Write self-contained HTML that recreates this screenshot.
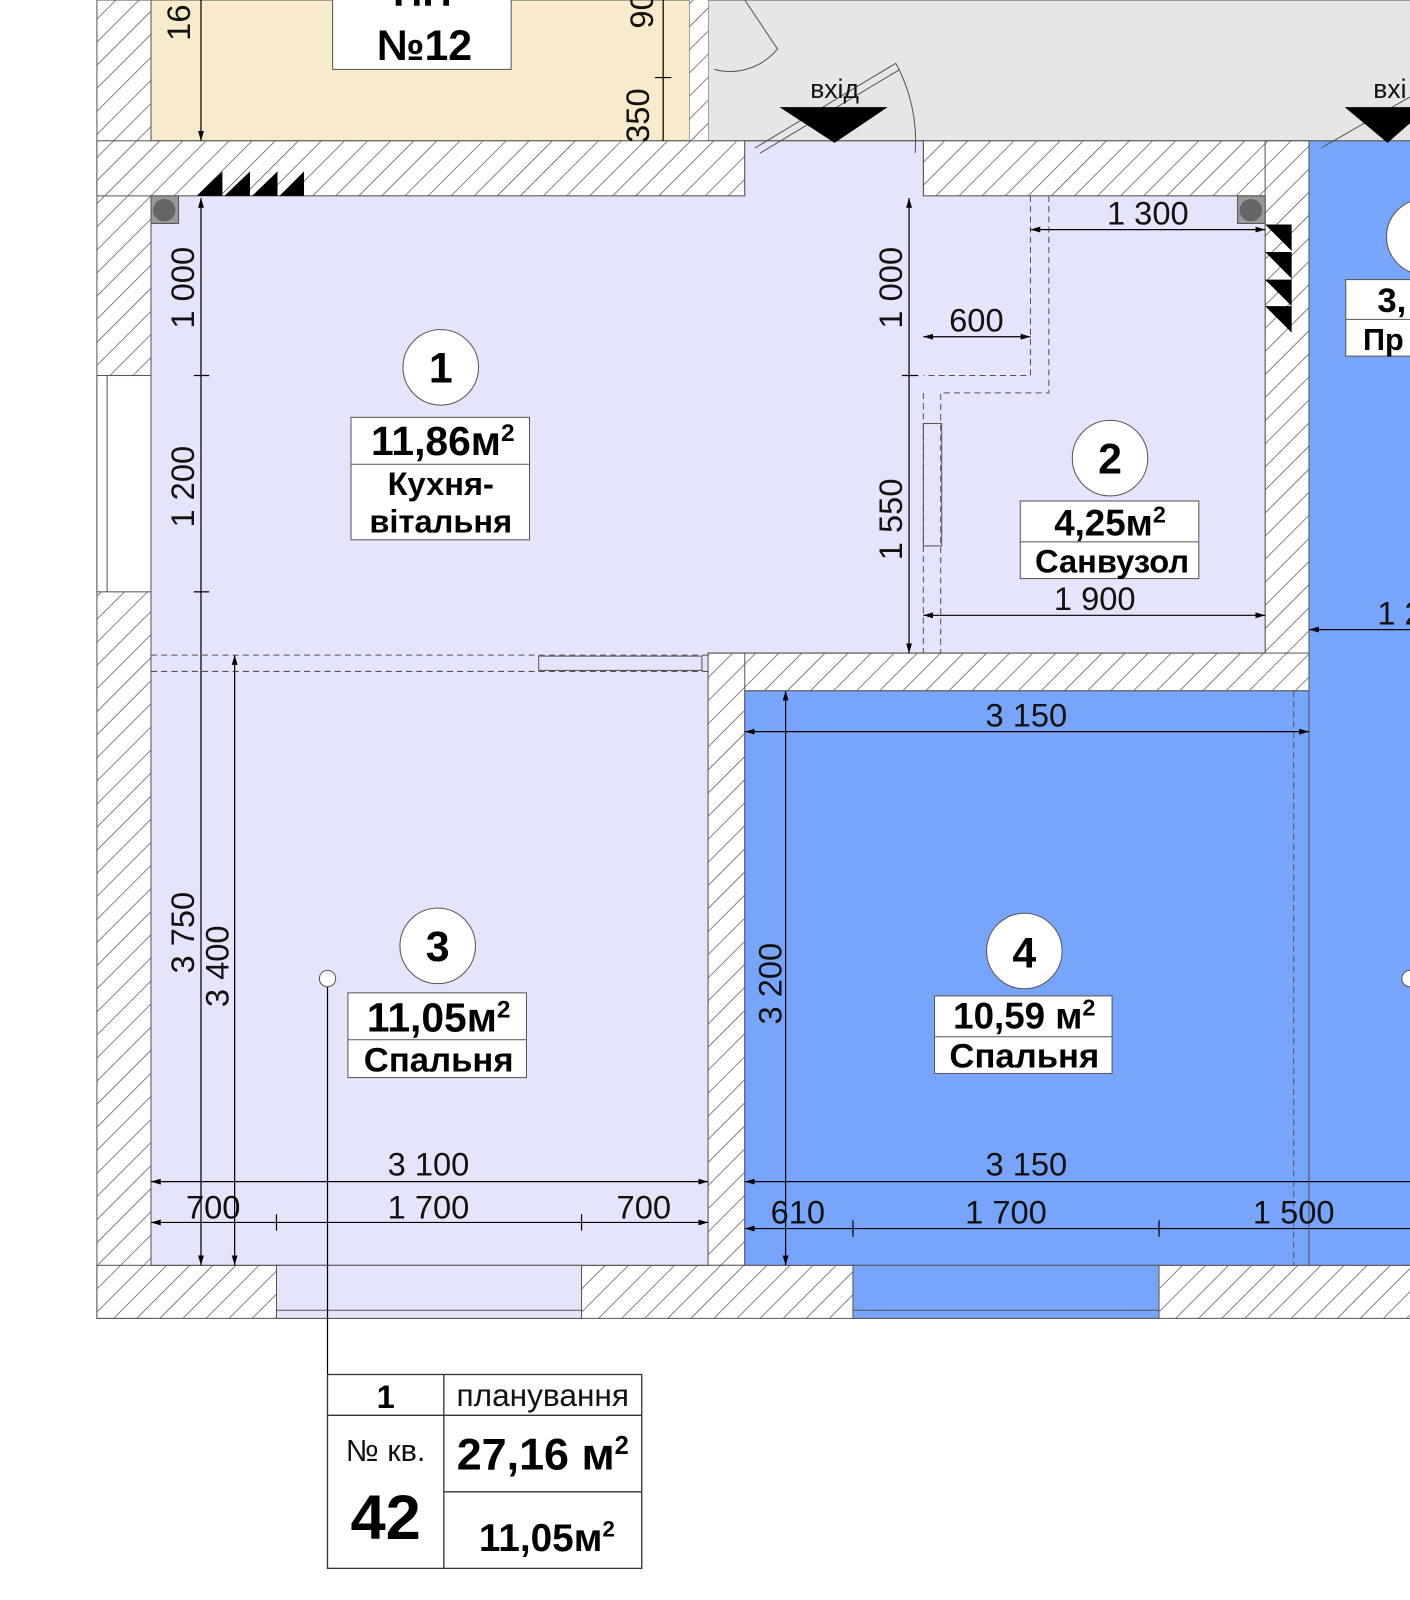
<!DOCTYPE html>
<html><head><meta charset="utf-8"><style>
html,body{margin:0;padding:0;background:#fff;}
svg{display:block}
text{font-family:"Liberation Sans",sans-serif;}
.d{font-size:32px;fill:#111}
.b{font-weight:bold;font-size:34px;fill:#000}
</style></head><body>
<svg width="1410" height="1600" viewBox="0 0 1382 1568" preserveAspectRatio="none" xmlns="http://www.w3.org/2000/svg">
<defs>
<pattern id="h" patternUnits="userSpaceOnUse" width="16" height="16" patternTransform="rotate(45)">
<rect width="16" height="16" fill="#fff"/><line x1="0" y1="0" x2="0" y2="16" stroke="#444" stroke-width="1.3"/>
</pattern>
<marker id="a" viewBox="0 0 10 10" refX="10" refY="5" markerWidth="8" markerHeight="8" orient="auto-start-reverse"><path d="M0,2L10,5L0,8z" fill="#000"/></marker>
</defs>
<rect width="1382" height="1568" fill="#fff"/>
<rect x="148" y="0" width="528" height="138" fill="#f7ebcc" stroke="#555"/>
<rect x="694" y="0" width="700" height="138" fill="#e6e6e6" stroke="#555"/>
<rect x="676" y="0" width="18" height="192" fill="url(#h)"/>
<rect x="95" y="0" width="53" height="1292" fill="url(#h)" stroke="#555"/>
<rect x="95" y="138" width="635" height="54" fill="url(#h)" stroke="#555"/>
<rect x="905" y="138" width="378" height="54" fill="url(#h)" stroke="#555"/>
<rect x="1240" y="138" width="43" height="540" fill="url(#h)" stroke="#555"/>
<rect x="694" y="640" width="589" height="37" fill="url(#h)" stroke="#555"/>
<rect x="694" y="640" width="36" height="600" fill="url(#h)" stroke="#555"/>
<rect x="95" y="1240" width="1300" height="52" fill="url(#h)" stroke="#555"/>
<path d="M148,192H730V138H905V192H1240V640H694V1240H148Z" fill="#e4e4fa" stroke="#555"/>
<rect x="730" y="677" width="553" height="563" fill="#76a5fb" stroke="#555"/>
<rect x="1283" y="138" width="110" height="1102" fill="#76a5fb" stroke="#555"/>
<rect x="95" y="368" width="53" height="212" fill="#fff" stroke="#555"/>
<line x1="105" y1="368" x2="105" y2="580" stroke="#555"/>
<rect x="271" y="1240" width="299" height="52" fill="#e4e4fa" stroke="#555"/>
<line x1="271" y1="1284" x2="570" y2="1284" stroke="#555"/>
<rect x="836" y="1240" width="300" height="52" fill="#76a5fb" stroke="#555"/>
<line x1="836" y1="1284" x2="1136" y2="1284" stroke="#555"/>
<g stroke="#555" fill="none" stroke-dasharray="6,4">
<path d="M1010,192V368H905M1028,192V385H922V640M905,385V640"/>
<path d="M148,642H694M148,658H694"/>
<path d="M1268,677V1240M1283,677V1240"/>
</g>
<rect x="905" y="415" width="18" height="120" fill="none" stroke="#555"/>
<rect x="528" y="643" width="160" height="14" fill="none" stroke="#555"/>
<rect x="148" y="192" width="27" height="27" fill="#999" stroke="#555"/><circle cx="161" cy="206" r="11" fill="#666"/>
<rect x="1213" y="192" width="27" height="27" fill="#999" stroke="#555"/><circle cx="1226" cy="206" r="11" fill="#666"/>
<g fill="#000"><path d="M193,192L218,168V192ZM220,192L245,168V192ZM247,192L272,168V192ZM274,192L298,168V192Z"/>
<path d="M1240,220L1266,246V220ZM1240,247L1266,273V247ZM1240,274L1266,300V274ZM1240,300L1266,326V300Z"/></g>
<g stroke="#555" fill="none">
<path d="M740,145L878,62M745,150L882,68"/><path d="M878,62A160,160 0 0 1 897,150"/>
<path d="M1295,145L1382,95"/><path d="M700,68A60,60 0 0 0 762,48L730,0"/>
</g>
<path d="M764,105H870L818,140Z" fill="#000"/><text x="818" y="96" text-anchor="middle" class="d" style="font-size:26px">вхід</text>
<path d="M1318,105H1400L1360,140Z" fill="#000"/><text x="1346" y="96" class="d" style="font-size:26px">вхі</text>
<rect x="326" y="-10" width="175" height="78" fill="#fff" stroke="#555"/>
<text x="414" y="6" text-anchor="middle" class="b" style="font-size:40px">ПП</text>
<text x="416" y="59" text-anchor="middle" class="b" style="font-size:42px">№12</text>
<text x="186" y="40" class="d" transform="rotate(-90 186 40)" text-anchor="start">16</text>
<text x="640" y="28" class="d" transform="rotate(-90 640 28)">90</text>
<text x="636" y="140" class="d" transform="rotate(-90 636 140)">350</text>
<g stroke="#000" stroke-width="1.2" fill="none">
<line x1="197" y1="0" x2="197" y2="138" marker-end="url(#a)"/>
<line x1="650" y1="0" x2="650" y2="138"/>
<line x1="642" y1="76" x2="658" y2="76"/>
</g>
<g stroke="#000" stroke-width="1.2" fill="none">
<line x1="197" y1="194" x2="197" y2="1240" marker-start="url(#a)" marker-end="url(#a)"/>
<line x1="190" y1="368" x2="205" y2="368"/><line x1="190" y1="580" x2="205" y2="580"/>
<line x1="230" y1="642" x2="230" y2="1240" marker-start="url(#a)" marker-end="url(#a)"/>
<line x1="891" y1="194" x2="891" y2="640" marker-start="url(#a)" marker-end="url(#a)"/>
<line x1="884" y1="368" x2="900" y2="368"/>
<line x1="905" y1="330" x2="1010" y2="330" marker-start="url(#a)" marker-end="url(#a)"/>
<line x1="1010" y1="225" x2="1240" y2="225" marker-start="url(#a)" marker-end="url(#a)"/>
<line x1="905" y1="603" x2="1240" y2="603" marker-start="url(#a)" marker-end="url(#a)"/>
<line x1="730" y1="717" x2="1283" y2="717" marker-start="url(#a)" marker-end="url(#a)"/>
<line x1="770" y1="677" x2="770" y2="1240" marker-start="url(#a)" marker-end="url(#a)"/>
<line x1="1283" y1="617" x2="1382" y2="617" marker-start="url(#a)"/>
<line x1="148" y1="1158" x2="694" y2="1158" marker-start="url(#a)" marker-end="url(#a)"/>
<line x1="148" y1="1198" x2="694" y2="1198" marker-start="url(#a)" marker-end="url(#a)"/>
<line x1="271" y1="1190" x2="271" y2="1206"/><line x1="570" y1="1190" x2="570" y2="1206"/>
<line x1="730" y1="1158" x2="1382" y2="1158" marker-start="url(#a)"/>
<line x1="730" y1="1204" x2="1382" y2="1204" marker-start="url(#a)"/>
<line x1="836" y1="1196" x2="836" y2="1212"/><line x1="1136" y1="1196" x2="1136" y2="1212"/>
<line x1="321" y1="960" x2="321" y2="1347"/>
</g>
<circle cx="321" cy="959" r="8" fill="#fff" stroke="#555"/>
<circle cx="1382" cy="959" r="8" fill="#fff" stroke="#555"/>
<g class="d">
<text x="190" y="322" transform="rotate(-90 190 322)">1 000</text>
<text x="190" y="517" transform="rotate(-90 190 517)">1 200</text>
<text x="190" y="954" transform="rotate(-90 190 954)">3 750</text>
<text x="224" y="987" transform="rotate(-90 224 987)">3 400</text>
<text x="884" y="322" transform="rotate(-90 884 322)">1 000</text>
<text x="884" y="549" transform="rotate(-90 884 549)">1 550</text>
<text x="766" y="1004" transform="rotate(-90 766 1004)">3 200</text>
<text x="957" y="325" text-anchor="middle">600</text>
<text x="1125" y="220" text-anchor="middle">1 300</text>
<text x="1073" y="598" text-anchor="middle">1 900</text>
<text x="1006" y="712" text-anchor="middle">3 150</text>
<text x="1350" y="612">1 2</text>
<text x="420" y="1152" text-anchor="middle">3 100</text>
<text x="209" y="1194" text-anchor="middle">700</text>
<text x="420" y="1194" text-anchor="middle">1 700</text>
<text x="631" y="1194" text-anchor="middle">700</text>
<text x="1006" y="1152" text-anchor="middle">3 150</text>
<text x="782" y="1199" text-anchor="middle">610</text>
<text x="986" y="1199" text-anchor="middle">1 700</text>
<text x="1268" y="1199" text-anchor="middle">1 500</text>
</g>
<g stroke="#555" fill="#fff">
<ellipse cx="432" cy="360" rx="37" ry="37"/><rect x="344" y="409" width="175" height="120"/><line x1="344" y1="455" x2="519" y2="455"/>
<ellipse cx="1088" cy="449" rx="37" ry="37"/><rect x="1000" y="491" width="175" height="76"/><line x1="1000" y1="531" x2="1175" y2="531"/>
<ellipse cx="429" cy="927" rx="37" ry="37"/><rect x="341" y="973" width="175" height="83"/><line x1="341" y1="1019" x2="516" y2="1019"/>
<ellipse cx="1004" cy="932" rx="37" ry="37"/><rect x="916" y="976" width="174" height="76"/><line x1="916" y1="1016" x2="1090" y2="1016"/>
<ellipse cx="1396" cy="232" rx="37" ry="37"/><rect x="1319" y="274" width="80" height="75"/><line x1="1319" y1="313" x2="1399" y2="313"/>
</g>
<g class="b" text-anchor="middle">
<text x="432" y="375" style="font-size:42px">1</text>
<text x="434" y="446" style="font-size:40px">11,86м<tspan dy="-14" style="font-size:24px">2</tspan></text>
<text x="432" y="485" style="font-size:32px">Кухня-</text>
<text x="432" y="522" style="font-size:32px">вітальня</text>
<text x="1088" y="464" style="font-size:42px">2</text>
<text x="1088" y="525" style="font-size:36px">4,25м<tspan dy="-13" style="font-size:23px">2</tspan></text>
<text x="1090" y="561" style="font-size:32px">Санвузол</text>
<text x="429" y="942" style="font-size:42px">3</text>
<text x="430" y="1011" style="font-size:40px">11,05м<tspan dy="-14" style="font-size:24px">2</tspan></text>
<text x="430" y="1050" style="font-size:34px">Спальня</text>
<text x="1004" y="948" style="font-size:42px">4</text>
<text x="1004" y="1008" style="font-size:36px">10,59 м<tspan dy="-13" style="font-size:23px">2</tspan></text>
<text x="1004" y="1046" style="font-size:34px">Спальня</text>
<text x="1350" y="306" text-anchor="start" style="font-size:34px">3,</text>
<text x="1336" y="343" text-anchor="start" style="font-size:30px">Пр</text>
</g>
<g stroke="#333" fill="none" stroke-width="1.3">
<rect x="321" y="1347" width="308" height="190" fill="#fff"/>
<line x1="435" y1="1347" x2="435" y2="1537"/>
<line x1="321" y1="1387" x2="629" y2="1387"/>
<line x1="435" y1="1462" x2="629" y2="1462"/>
</g>
<text x="378" y="1380" text-anchor="middle" class="b" style="font-size:32px">1</text>
<text x="532" y="1378" text-anchor="middle" class="d" style="font-size:31px">планування</text>
<text x="378" y="1432" text-anchor="middle" class="d" style="font-size:30px">№ кв.</text>
<text x="378" y="1508" text-anchor="middle" class="b" style="font-size:62px">42</text>
<text x="532" y="1440" text-anchor="middle" class="b" style="font-size:44px">27,16 м<tspan dy="-15" style="font-size:25px">2</tspan></text>
<text x="536" y="1520" text-anchor="middle" class="b" style="font-size:38px">11,05м<tspan dy="-14" style="font-size:22px">2</tspan></text>
</svg>
</body></html>
